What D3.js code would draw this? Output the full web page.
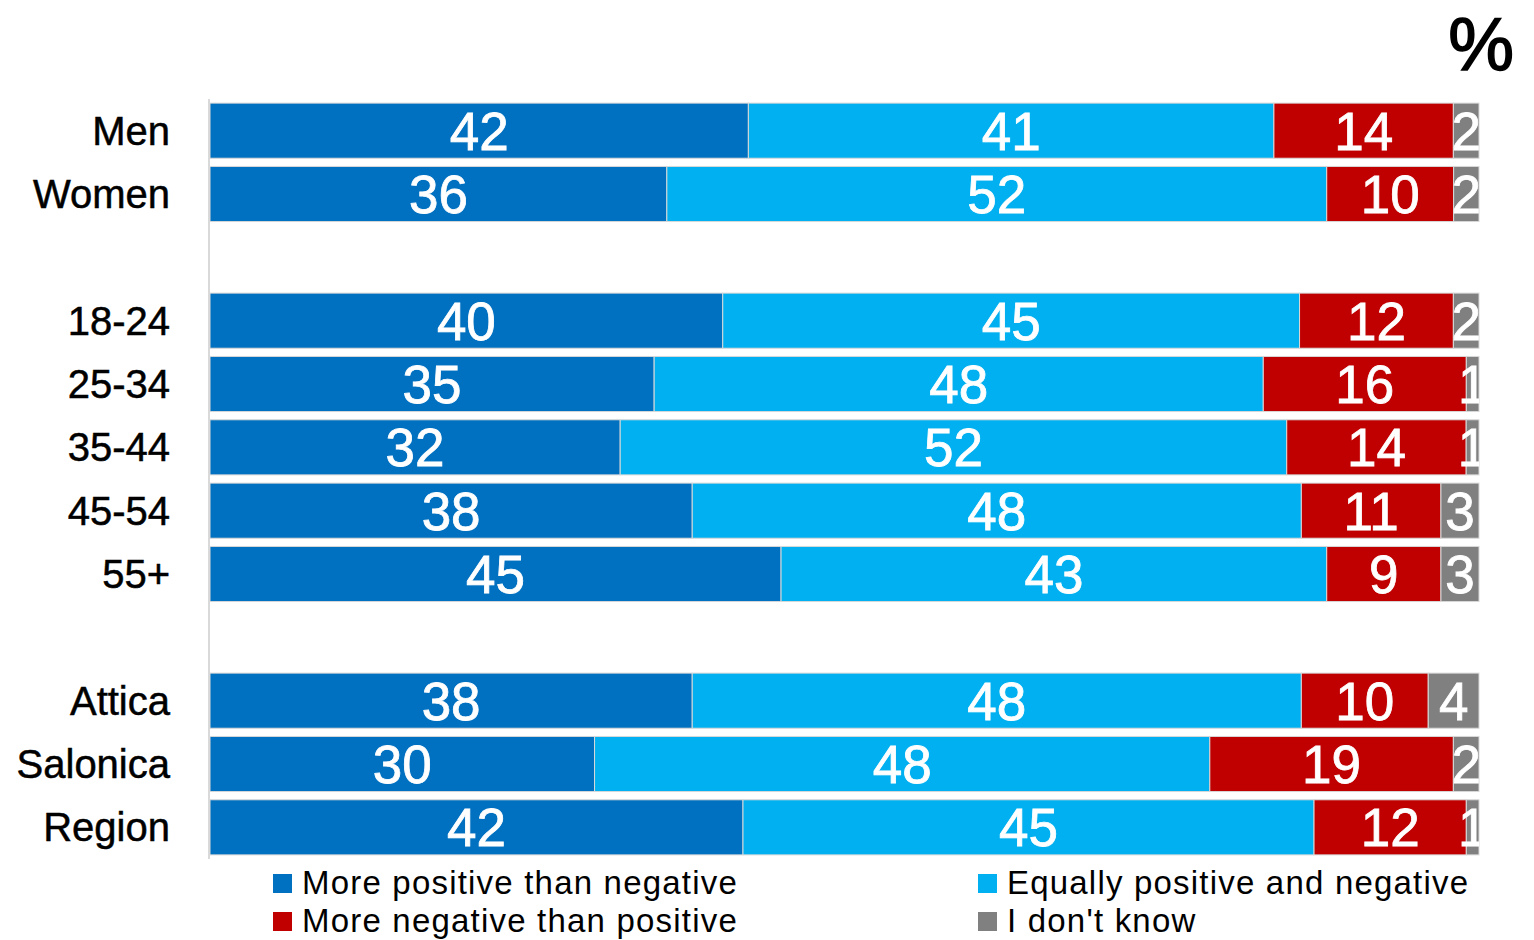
<!DOCTYPE html>
<html>
<head>
<meta charset="utf-8">
<script src="https://cdn.jsdelivr.net/npm/d3@7"></script>
<style>
  body { margin: 0; background: #fff; }
  svg { display: block; }
</style>
</head>
<body>
<svg id="canvas" width="1534" height="940"></svg>
<script>
// categories, with two empty slots that make the gaps between groups
let categories = ["Men", "Women", "", "18-24", "25-34", "35-44", "45-54", "55+", " ", "Attica", "Salonica", "Region"];
let rows = ["Men", "Women", "18-24", "25-34", "35-44", "45-54", "55+", "Attica", "Salonica", "Region"];

let seriesNames = [
  "More positive than negative",
  "Equally positive and negative",
  "More negative than positive",
  "I don't know"
];
let seriesColors = ["#0070c0", "#00b0f0", "#c00000", "#808080"];

let morePositive = [42, 36, 40, 35, 32, 38, 45, 38, 30, 42];
let equally      = [41, 52, 45, 48, 52, 48, 43, 48, 48, 45];
let moreNegative = [14, 10, 12, 16, 14, 11,  9, 10, 19, 12];
let dontKnow     = [ 2,  2,  2,  1,  1,  3,  3,  4,  2,  1];

let table = rows.map((r, i) => {
  let d = { row: r };
  d[seriesNames[0]] = morePositive[i];
  d[seriesNames[1]] = equally[i];
  d[seriesNames[2]] = moreNegative[i];
  d[seriesNames[3]] = dontKnow[i];
  return d;
});

let svg = d3.select("#canvas");
let font = "'Liberation Sans', Arial, sans-serif";

let x = d3.scaleLinear().domain([0, 1]).range([210, 1479]);
let y = d3.scaleBand().domain(categories).range([99, 859])
  .paddingInner(0.13).paddingOuter(0.065);

let color = d3.scaleOrdinal().domain(seriesNames).range(seriesColors);

let stacked = d3.stack().keys(seriesNames).offset(d3.stackOffsetExpand)(table);

svg.append("defs").append("clipPath").attr("id", "plotclip")
  .append("rect")
  .attr("x", x(0)).attr("y", 0)
  .attr("width", x(1) - x(0)).attr("height", 940);

// left axis line
svg.append("line")
  .attr("x1", x(0) - 1).attr("x2", x(0) - 1)
  .attr("y1", y.range()[0]).attr("y2", y.range()[1])
  .attr("stroke", "#d9d9d9").attr("stroke-width", 2);

let layers = svg.append("g").selectAll("g")
  .data(stacked)
  .enter()
  .append("g")
  .attr("fill", (s) => color(s.key));

layers.selectAll("rect")
  .data((s) => s)
  .enter()
  .append("rect")
  .attr("x", (d) => x(d[0]))
  .attr("y", (d) => y(d.data.row))
  .attr("width", (d) => x(d[1]) - x(d[0]))
  .attr("height", y.bandwidth())
  .attr("stroke", "#d9d9d9")
  .attr("stroke-width", 1);

// value labels, clipped at the bar end
let labels = svg.append("g").attr("clip-path", "url(#plotclip)");
stacked.forEach((s) => {
  labels.selectAll(null)
    .data(s)
    .enter()
    .append("text")
    .attr("x", (d) => (x(d[0]) + x(d[1])) / 2)
    .attr("y", (d) => y(d.data.row) + y.bandwidth() / 2 + 19)
    .attr("text-anchor", "middle")
    .attr("font-family", font)
    .attr("font-size", 53)
    .attr("fill", "#fff")
    .attr("stroke", "#fff")
    .attr("stroke-width", 0.8)
    .text((d) => d.data[s.key]);
});

// category labels
svg.append("g").selectAll("text")
  .data(rows)
  .enter()
  .append("text")
  .attr("x", 170)
  .attr("y", (r) => y(r) + y.bandwidth() / 2 + 14)
  .attr("text-anchor", "end")
  .attr("font-family", font)
  .attr("font-size", 40)
  .attr("fill", "#000")
  .attr("stroke", "#000")
  .attr("stroke-width", 0.5)
  .text((r) => r);

// percent sign
svg.append("text")
  .attr("x", 1514).attr("y", 70)
  .attr("text-anchor", "end")
  .attr("font-family", font)
  .attr("font-size", 74)
  .attr("fill", "#000")
  .attr("stroke", "#000")
  .attr("stroke-width", 1.5)
  .text("%");

// legend
let legendPos = [[273, 874], [978, 874], [273, 912], [978, 912]];
let legend = svg.append("g").selectAll("g")
  .data(seriesNames)
  .enter()
  .append("g")
  .attr("transform", (d, i) => "translate(" + legendPos[i][0] + "," + legendPos[i][1] + ")");

legend.append("rect")
  .attr("width", 19).attr("height", 19)
  .attr("fill", (d) => color(d));

legend.append("text")
  .attr("x", 29).attr("y", 20)
  .attr("font-family", font)
  .attr("font-size", 33)
  .attr("letter-spacing", 1.2)
  .attr("fill", "#000")
  .text((d) => d);
</script>
</body>
</html>
